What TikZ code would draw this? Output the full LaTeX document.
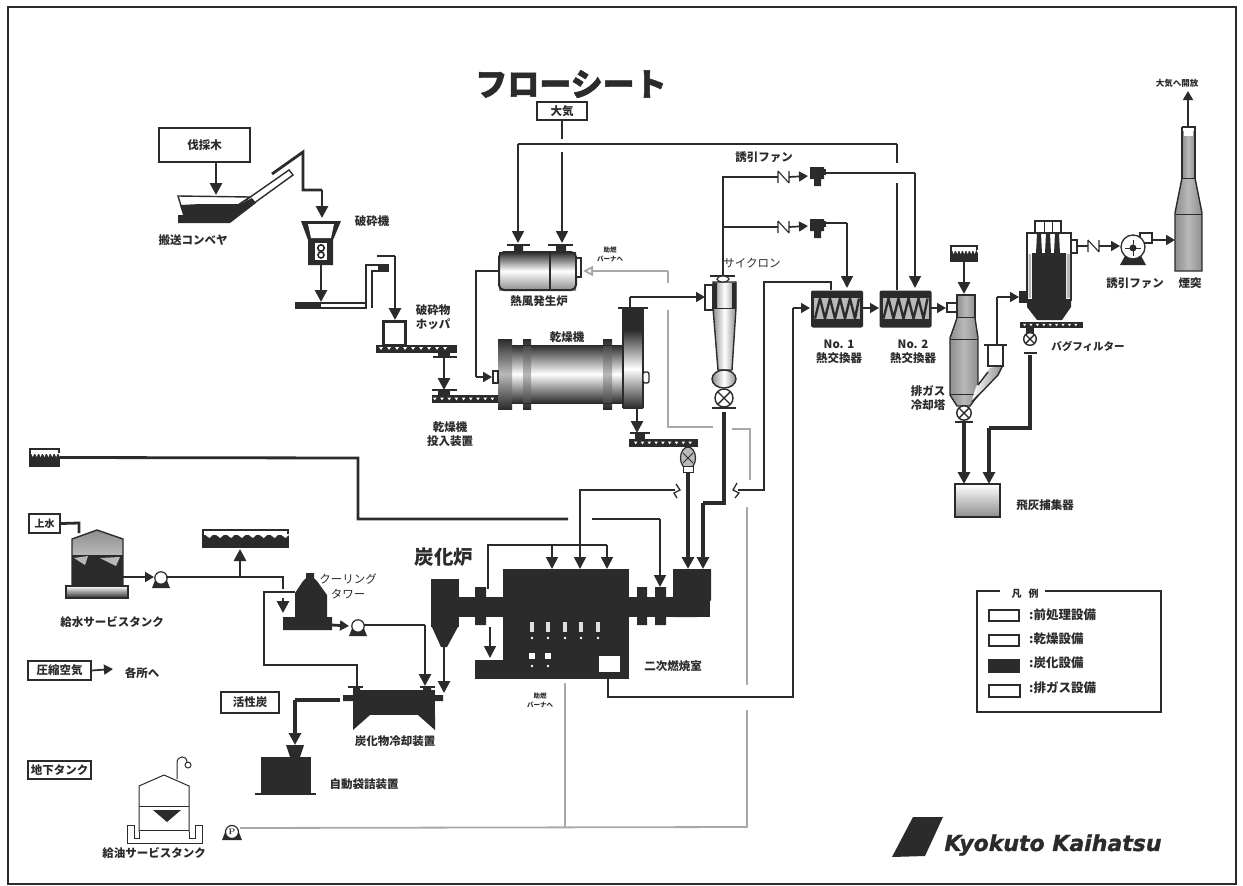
\documentclass[tikz,border=0pt]{standalone}
\usepackage{fontspec}
\newfontfamily\cjk{Noto Sans CJK JP}
\newfontfamily\cjkheavy{Noto Sans CJK JP}[FakeBold=1.6]
\newfontfamily\logofont{DejaVu Sans}[FakeBold=1.2]
\usetikzlibrary{arrows.meta,calc}
\definecolor{ink}{HTML}{2B2B2B}
\definecolor{pale}{HTML}{B9B9B9}
\definecolor{mid}{HTML}{8E8E8E}
\definecolor{greyline}{HTML}{A8A8A8}
\tikzset{
  x=1pt,y=-1pt,
  lab/.style={inner sep=0pt,text=ink,align=center,font=\cjk\bfseries\fontsize{11.5}{14}\selectfont},
  lablight/.style={inner sep=0pt,text=ink,align=center,font=\cjk\fontsize{11.5}{15}\selectfont},
  small/.style={inner sep=0pt,text=ink,align=center,font=\cjk\bfseries\fontsize{6.5}{9}\selectfont},
  tagbox/.style={draw=ink,line width=1.2pt,fill=white,inner sep=0pt,text=ink,font=\cjk\bfseries\fontsize{11.5}{14}\selectfont},
  pipe/.style={draw=ink,line width=1.7pt},
  pipet/.style={draw=ink,line width=2.8pt},
  pipex/.style={draw=ink,line width=4.6pt},
  gpipe/.style={draw=greyline,line width=1.8pt},
  arr/.style={-{Triangle[length=12pt,width=12pt]}},
  arrs/.style={-{Triangle[length=9pt,width=10pt]}},
  ggarr/.style={-{Triangle[length=10pt,width=10pt,fill=white]}},
  shell/.style={draw=ink,line width=1.4pt},
  ballvalve/.pic={
    \draw[ink,line width=1.4pt,fill=white] (0,0) circle (9);
    \draw[ink,line width=1.4pt] (-6.4,-6.4) -- (6.4,6.4) (-6.4,6.4) -- (6.4,-6.4);
  },
  checkv/.pic={
    \draw[ink,line width=1.1pt] (0,-6) -- (0,6) (0,-6) -- (11,6) (11,-6) -- (11,6);
  },
  fanunit/.pic={
    \fill[ink] (-7,-8) rectangle (7,4) (-3,4) rectangle (4,11);
    \fill[ink] (7,-6) rectangle (9,0);
  },
  pumpunit/.pic={
    \fill[ink] (-9,10) -- (-5,0) -- (5,0) -- (9,10) -- cycle;
    \draw[ink,line width=1.2pt,fill=white] (0,0) circle (6.2);
  },
  hxunit/.pic={
    \fill[ink,rounded corners=2pt] (-26,-18) rectangle (26,19);
    \fill[pale] (-23,-11) rectangle (23,10);
    \draw[ink,line width=2.4pt,line join=miter]
      (-22,10) -- (-17,-10) -- (-12,10) -- (-7,-10) -- (-2,10) -- (3,-10) -- (8,10) -- (13,-10) -- (18,10) -- (22,-10);
  },
  screwunit/.pic={
    \foreach \i in {0,8,...,64}{ \fill[white] (\i,-1.5) -- (\i+4,-1.5) -- (\i+2,1.5) -- cycle; }
  }
}
\newcommand{\blotbox}[4]{%
  \fill[ink] (#1,#2) rectangle (#3,#4);
  \fill[white] (#1+2,#2+2) rectangle (#3-2,#2+6);
  \pgfmathsetmacro{\bstep}{(#3-#1)/8}
  \foreach \k in {0,...,7}{
    \fill[white] ({#1+2+\k*\bstep},#2+5) -- ({#1+2+(\k+.5)*\bstep},#2+9) -- ({#1+2+(\k+.9)*\bstep},#2+5) -- cycle;
  }
}
\begin{document}
\begin{tikzpicture}
\useasboundingbox (0,0) rectangle (1243,886);
\fill[white] (0,0) rectangle (1243,886);
\draw[ink,line width=1.5pt] (8,7) rectangle (1236,884);

% ---------- ports and bends ----------
\coordinate (wasteDrop) at (216,195);
\coordinate (chuteA) at (272,174); \coordinate (chuteB) at (303,152);
\coordinate (chuteC) at (303,190); \coordinate (chuteD) at (322,190); \coordinate (crusherIn) at (322,218);
\coordinate (crusherOut) at (321,265); \coordinate (beltIn) at (321,302);
\coordinate (liftTop) at (377,256); \coordinate (liftB) at (395,256); \coordinate (hopperIn) at (395,320);
\coordinate (feedOut) at (444,358); \coordinate (feedIn) at (444,390);
\coordinate (airBranchTop) at (562,120); \coordinate (airGapA) at (562,139);
\coordinate (airGapB) at (562,152); \coordinate (burnerIn2) at (562,243);
\coordinate (airL) at (518,144); \coordinate (burnerIn1) at (518,243);
\coordinate (airR) at (897,144); \coordinate (airRGap) at (897,163);
\coordinate (airRGapB) at (897,183); \coordinate (hx2Tap) at (897,290);
\coordinate (genOut) at (499,271); \coordinate (genBendA) at (476,271);
\coordinate (genBendB) at (476,383); \coordinate (dryerIn) at (492,377);
\coordinate (dryerOut) at (630,308); \coordinate (gasBend) at (630,297); \coordinate (cycIn) at (705,297);
\coordinate (cycTop) at (723,276); \coordinate (fan1Bend) at (723,177); \coordinate (fan1Chk) at (778,177);
\coordinate (fan2Tee) at (723,227); \coordinate (fan2Chk) at (778,227);
\coordinate (fan1Out) at (826,173); \coordinate (fan1Right) at (915,173); \coordinate (hx2In) at (915,288);
\coordinate (fan2Out) at (826,223); \coordinate (fan2Right) at (847,223); \coordinate (hx1In) at (847,288);
\coordinate (hx1Tap) at (831,290); \coordinate (tapBend) at (831,282); \coordinate (tapL) at (764,282);
\coordinate (sBreakR) at (738,490); \coordinate (sBendR) at (764,490);
\coordinate (hx1Fwd) at (793,308); \coordinate (hx1Left) at (810,308);
\coordinate (ashWin) at (608,672); \coordinate (ashBend) at (608,697); \coordinate (ashR) at (793,697);
\coordinate (hxAout) at (863,308); \coordinate (hxBin) at (879,308);
\coordinate (hxBout) at (931,308); \coordinate (coolIn) at (946,308);
\coordinate (sprayIn) at (964,294);
\coordinate (coolOut) at (997,345); \coordinate (coolUp) at (997,297); \coordinate (bagIn) at (1019,297);
\coordinate (coolDown) at (964,423); \coordinate (ashA) at (964,484);
\coordinate (bagDown) at (1030,355); \coordinate (bagBend) at (1030,428); \coordinate (bagBendL) at (989,428); \coordinate (ashB) at (989,484);
\coordinate (bagOut) at (1077,246); \coordinate (bagChk) at (1088,246); \coordinate (fan3In) at (1120,246);
\coordinate (fan3Out) at (1152,240); \coordinate (stackIn) at (1175,240);
\coordinate (stackTop) at (1188,127); \coordinate (stackEnd) at (1188,91);
\coordinate (fuelL) at (358,458); \coordinate (fuelD) at (358,519); \coordinate (fuelGap) at (568,519);
\coordinate (fuelGapB) at (592,519); \coordinate (fuelBend) at (660,519); \coordinate (fuelEnd) at (660,587);
\coordinate (sLeft) at (675,490); \coordinate (sCorner) at (580,490); \coordinate (busTee) at (580,545);
\coordinate (busL) at (488,545); \coordinate (busLd) at (488,589); \coordinate (busR) at (607,545);
\coordinate (busA) at (552,545); \coordinate (fA) at (552,569); \coordinate (fB) at (580,569); \coordinate (fC) at (607,569);
\coordinate (char1) at (688,470); \coordinate (char1e) at (688,569);
\coordinate (char2) at (724,412); \coordinate (char2b) at (724,503); \coordinate (char2c) at (703,503); \coordinate (char2e) at (703,569);
\coordinate (dryDown) at (637,408); \coordinate (dryDownE) at (637,433);
\coordinate (inFeed) at (490,627); \coordinate (inFeedE) at (490,658);
\coordinate (waterIn) at (79,523); \coordinate (waterTop) at (79,533);
\coordinate (tankOut) at (123,577); \coordinate (pump1In) at (154,577);
\coordinate (pump1Out) at (166,577); \coordinate (line1E) at (283,577); \coordinate (line1D) at (283,589);
\coordinate (tee1) at (240,577); \coordinate (up1) at (240,549);
\coordinate (dropA) at (283,598); \coordinate (dropB) at (283,613);
\coordinate (retA) at (295,592); \coordinate (retB) at (264,592); \coordinate (retC) at (264,665); \coordinate (retD) at (357,665); \coordinate (retE) at (357,687);
\coordinate (ctOut) at (332,625); \coordinate (pump2In) at (349,626);
\coordinate (pump2Out) at (364,625); \coordinate (pump2B) at (425,625); \coordinate (pump2E) at (425,686);
\coordinate (cycDown) at (444,646); \coordinate (cycDownE) at (444,693);
\coordinate (coolerOut) at (340,700); \coordinate (bagB) at (295,700); \coordinate (bagE) at (295,745);
\coordinate (caE) at (113,669);
\coordinate (dstA) at (583,271); \coordinate (gB) at (668,271); \coordinate (gC) at (668,283);
\coordinate (gD) at (668,310); \coordinate (gE) at (668,427); \coordinate (gF) at (713,427);
\coordinate (gG) at (732,429); \coordinate (gH) at (750,429); \coordinate (gI) at (750,480);
\coordinate (gJ) at (747,507); \coordinate (gK) at (747,685); \coordinate (gL) at (747,710);
\coordinate (gM) at (747,827); \coordinate (gN) at (240,828); \coordinate (gO) at (565,683); \coordinate (gP) at (565,827);

% ---------- labels and boxes ----------
\node[inner sep=0pt,text=ink,font=\cjkheavy\bfseries\fontsize{32}{34}\selectfont] (title) at (571,84) {フローシート};
\node[tagbox,minimum width=91pt,minimum height=34pt] (wood) at (204.5,145) {伐採木};
\node[tagbox,minimum width=50pt,minimum height=18pt] (air) at (562,111) {大気};
\node[tagbox,minimum width=63pt,minimum height=19pt] (comp) at (59.5,670.5) {圧縮空気};
\node[tagbox,minimum width=58pt,minimum height=21pt] (carbon) at (250,702.5) {活性炭};
\node[tagbox,minimum width=63pt,minimum height=18pt] (ugt) at (59.5,770) {地下タンク};
\node[tagbox,line width=2pt,minimum width=31pt,minimum height=19pt] (tapw) at (44.5,523.5) {\fontsize{10}{12}\selectfont 上水};
\node[lab] (l1) at (193,240) {搬送コンベヤ};
\node[lab] (l2) at (372,221) {破砕機};
\node[lab] (l3) at (433,317) {破砕物\\ホッパ};
\node[lab] (l4) at (450,434) {乾燥機\\投入装置};
\node[lab] (l5) at (539,301) {熱風発生炉};
\node[lablight] (l8) at (752,263) {サイクロン};
\node[small] (l9) at (610,254) {助燃\\バーナへ};
\node[small] (l9b) at (540,700) {助燃\\バーナへ};
\node[lab] (l7) at (764,157) {誘引ファン};
\node[lab] (l10) at (839,352) {No. 1\\熱交換器};
\node[lab] (l11) at (913,352) {No. 2\\熱交換器};
\node[lab] (l12) at (928,398) {排ガス\\冷却塔};
\node[lablight,font=\cjk\bfseries\fontsize{10.5}{13}\selectfont] (l13) at (1088,346) {バグフィルター};
\node[lab] (l14) at (1135,283) {誘引ファン};
\node[lab] (l15) at (1190,283) {煙突};
\node[lab,font=\cjk\bfseries\fontsize{8.5}{10}\selectfont] (l16) at (1177,83) {大気へ開放};
\node[lab] (l17) at (1045,505) {飛灰捕集器};
\node[lab] (l18) at (112,622) {給水サービスタンク};
\node[lab] (l19) at (142,673) {各所へ};
\node[lab] (l20) at (154,853) {給油サービスタンク};
\node[lablight] (l21) at (348,586) {クーリング\\タワー};
\node[inner sep=0pt,text=ink,font=\cjk\bfseries\fontsize{19.5}{22}\selectfont] (l22) at (444,557) {炭化炉};
\node[lab] (l23) at (395,741) {炭化物冷却装置};
\node[lab] (l24) at (364,784) {自動袋詰装置};
\node[lab] (l25) at (673,666) {二次燃焼室};

% ---------- conveyor, crusher, hopper ----------
\draw[shell,fill=white] (246,200) -- (289,170) -- (293,175) -- (246,209) -- cycle;
\draw[shell,fill=white] (178,196) -- (250,197) -- (232,209) -- (182,209) -- cycle;
\fill[ink] (180,205) -- (200,204) -- (240,204) -- (252,198) -- (256,203) -- (230,223) -- (178,223) -- (178,215) -- (183,215) -- cycle;
\fill[ink] (301,221) -- (341,221) -- (333,240) -- (333,265) -- (308,265) -- (308,240) -- cycle;
\fill[white] (308,224) -- (334,224) -- (331,238) -- (311,238) -- cycle;
\fill[white] (315,243) -- (327,243) -- (327,260) -- (315,260) -- cycle;
\draw[ink,line width=1.6pt] (321,248) circle (3.2) (321,255) circle (3);
\fill[ink] (295,302) rectangle (320,309);
\draw[shell,fill=white] (320,303) rectangle (366,308);
\draw[shell,fill=white] (366,308) -- (366,265) -- (388,265) -- (388,271) -- (372,271) -- (372,308);
\fill[ink] (378,265) rectangle (388,272);
\draw[ink,line width=3pt,fill=white] (383.5,321.5) rectangle (405.5,345);
\fill[ink] (376,345) rectangle (457,353);
\draw[ink,line width=1.3pt] (433,357) -- (457,357);
\fill[ink] (438,353) rectangle (450,358);
\pic at (379,348.5) {screwunit};
\draw[ink,line width=1.3pt] (432,390) -- (457,390);
\fill[ink] (438,390) rectangle (450,395);
\fill[ink] (432,395) rectangle (498,403);
\pic[scale=.9] at (433,399) {screwunit};

% ---------- hot air generator ----------
\shade[top color=ink,bottom color=mid,middle color=white] (499,252) rectangle (576,290);
\draw[ink,line width=2pt,rounded corners=5pt] (499,252) rectangle (576,290);
\draw[ink,line width=2pt] (550,253) -- (550,290);
\draw[ink,line width=1.4pt,fill=white] (576,258) rectangle (581,277);
\draw[ink,line width=1.3pt] (507,245) -- (530,245) (548,245) -- (573,245);
\fill[ink] (514,245) rectangle (523,252) (556,245) rectangle (566,252);

% ---------- dryer ----------
\shade[top color=ink,bottom color=ink,middle color=white] (512,345) rectangle (623,403);
\foreach \xa/\xb in {498/512,523/531,603/612}{
  \shade[top color=ink,bottom color=ink,middle color=pale] (\xa,339) rectangle (\xb,409);
}
\draw[ink,line width=1pt] (512,345) -- (623,345) (512,403) -- (623,403);
\shade[top color=ink,bottom color=ink,middle color=white] (623,330) rectangle (643,408);
\fill[ink] (624,308) rectangle (643,330);
\draw[ink,line width=1.3pt] (618,308) -- (648,308) (623,308) -- (623,408) (643,308) -- (643,408);
\draw[shell,fill=white,rounded corners=2pt] (643,372) rectangle (649,383);
\draw[ink,line width=1.8pt,fill=white] (493,371) rectangle (498,383);

% ---------- cyclone ----------
\draw[shell,fill=white] (705,285) rectangle (713,310);
\shade[left color=mid,right color=mid,middle color=white] (713,282) -- (736,282) -- (736,308) -- (732,370) -- (718,370) -- (713,308) -- cycle;
\draw[ink,line width=1.4pt] (713,282) -- (736,282) -- (736,308) -- (732,370) -- (718,370) -- (713,308) -- cycle;
\fill[ink] (713,283) rectangle (717,308) (732,283) rectangle (736,308);
\draw[ink,line width=1pt] (713,308) -- (736,308);
\draw[ink,line width=1.3pt] (710,276) -- (735,276);
\draw[ink,line width=1.2pt,fill=white] (723,279) ellipse (6 and 3);
\shade[left color=mid,right color=mid,middle color=white] (724,379) ellipse (12 and 9);
\draw[shell] (724,379) ellipse (12 and 9);
\pic at (724,398) {ballvalve};
\draw[ink,line width=1.5pt] (712,408) -- (736,408);

% ---------- heat exchangers ----------
\pic at (837,308.5) {hxunit};
\pic at (905.5,308.5) {hxunit};

% ---------- cooling tower ----------
\blotbox{950}{245}{978}{262}
\draw[shell,fill=white] (947,303) rectangle (957,312);
\shade[left color=mid,right color=mid,middle color=pale] (957,295) rectangle (975,318);
\draw[shell] (957,295) rectangle (975,318);
\shade[left color=mid,right color=mid,middle color=pale] (957,318) -- (975,318) -- (978,338) -- (978,395) -- (970,406) -- (957,406) -- (950,395) -- (950,338) -- cycle;
\draw[shell] (957,318) -- (950,338) -- (950,395) -- (957,406) -- (970,406) -- (978,395) -- (978,338) -- (975,318);
\draw[ink,line width=.7pt] (950,339) -- (978,339) (950,394) -- (978,394);
\shade[left color=white,right color=mid] (976,387) -- (990,368) -- (1003,365) -- (998,375) -- (972,400) -- cycle;
\draw[shell] (978,385) -- (988,372) (1003,365) -- (998,375) -- (972,402);
\draw[shell,fill=white] (988,345) rectangle (1003,366);
\draw[ink,line width=1.3pt] (984,345) -- (1007,345);
\pic[scale=.8] at (964,413) {ballvalve};
\draw[ink,line width=1.5pt] (955,422) -- (973,422);

% ---------- bag filter ----------
\draw[shell,fill=white] (1035,221) rectangle (1061,234);
\draw[ink,line width=1pt] (1044,221) -- (1044,234) (1052,221) -- (1052,234);
\draw[shell,fill=white] (1027,233) rectangle (1071,300);
\fill[ink] (1032,253) -- (1066,253) -- (1066,300) -- (1071,300) -- (1071,307) -- (1062,320) -- (1037,320) -- (1027,307) -- (1027,300) -- (1032,300) -- cycle;
\fill[ink] (1037,233) -- (1041,233) -- (1042,254) -- (1036,254) -- cycle
           (1046,233) -- (1050,233) -- (1051,254) -- (1045,254) -- cycle
           (1055,233) -- (1059,233) -- (1060,254) -- (1054,254) -- cycle;
\draw[ink,line width=1.2pt,fill=white] (1071,240) rectangle (1077,253);
\fill[pale] (1028.5,254) rectangle (1031,298) (1067,254) rectangle (1070,298);
\fill[ink] (1019,291) rectangle (1028,303);
\fill[ink] (1020,322) rectangle (1083,328);
\pic[scale=.8] at (1023,325) {screwunit};
\fill[ink] (1026,328) rectangle (1034,333);
\pic[scale=.7] at (1030,339) {ballvalve};
\draw[ink,line width=1.4pt] (1024,353) -- (1037,353);

% ---------- fans, valves, pumps ----------
\pic at (778,177) {checkv};
\pic at (778,227) {checkv};
\pic at (817,175) {fanunit};
\pic at (817,227) {fanunit};
\pic at (1088,246) {checkv};
\draw[ink,line width=1.3pt,fill=white] (1140,233) rectangle (1152,243);
\fill[ink] (1120,265) -- (1126,254) -- (1140,254) -- (1146,265) -- cycle;
\draw[ink,line width=1.3pt,fill=white] (1133,247) circle (12);
\fill[ink] (1133,248) circle (3.5);
\draw[ink,line width=1pt] (1125,248) -- (1141,248) (1133,240) -- (1133,256);

% ---------- stack ----------
\shade[left color=mid,right color=mid,middle color=pale] (1182,131) rectangle (1195,178);
\draw[shell] (1182,127) -- (1195,127) -- (1195,178) (1182,127) -- (1182,178);
\fill[white] (1184,128) rectangle (1193,136);
\shade[left color=mid,right color=mid,middle color=pale] (1182,178) -- (1195,178) -- (1202,213) -- (1202,271) -- (1175,271) -- (1175,213) -- cycle;
\draw[shell] (1182,178) -- (1175,213) -- (1175,271) -- (1202,271) -- (1202,213) -- (1195,178);
\draw[ink,line width=1pt] (1182,178) -- (1195,178) (1175,214) -- (1202,214);

% ---------- ash box ----------
\shade[top color=white,bottom color=mid] (955,484) rectangle (1000,517);
\draw[shell] (955,484) rectangle (1000,517);

% ---------- furnace ----------
\fill[ink] (503,569) rectangle (629,679);
\fill[ink] (458,597) rectangle (710,617);
\fill[ink] (475,587) rectangle (486,625) (637,587) rectangle (647,625) (655,587) rectangle (666,625);
\fill[ink] (673,569) -- (711,569) -- (711,600) -- (697,617) -- (673,617) -- cycle;
\fill[ink] (475,660) rectangle (503,679);
\fill[white] (599,656) rectangle (620,672);
\foreach \xp in {532,548,565,581,598}{
  \fill[white!85!ink] (\xp-2,622) rectangle (\xp+2,632);
  \fill[white] (\xp,638) circle (1.3);
}
\foreach \xp in {532,548}{
  \fill[white] (\xp-3,653) rectangle (\xp+3,659);
  \fill[white] (\xp,666) circle (1.3);
}
\fill[ink] (431,579) rectangle (459,627) ;
\fill[ink] (431,625) -- (459,625) -- (447,647) -- (441,647) -- cycle;

% ---------- water tank and lines ----------
\shade[top color=mid,bottom color=pale] (72,539) -- (97,530) -- (123,539) -- (123,555) -- (72,555) -- cycle;
\fill[ink] (72,555) rectangle (123,586);
\fill[pale] (74,558) -- (88,556) -- (85,565) -- cycle (100,558) -- (120,557) -- (116,566) -- cycle;
\draw[shell] (72,585) -- (72,539) -- (97,530) -- (123,539) -- (123,585);
\shade[top color=white,bottom color=ink] (66,586) rectangle (128,598);
\draw[shell] (66,586) rectangle (128,598);
\blotbox{202}{529}{289}{548}
\fill[ink] (303,581) -- (306,578) -- (306,573) -- (314,573) -- (314,578) -- (317,581) -- (327,595) -- (327,617) -- (332,617) -- (332,630) -- (283,630) -- (283,617) -- (295,617) -- (295,593) -- cycle;
\pic at (161,578) {pumpunit};
\pic at (358,626) {pumpunit};
\fill[ink] (353,690) rectangle (435,715);
\fill[ink] (353,715) -- (370,715) -- (353,730) -- cycle (435,715) -- (418,715) -- (435,730) -- cycle;
\fill[ink] (343,695) rectangle (353,701) (435,695) rectangle (443,701);
\draw[ink,line width=1.3pt] (348,687) -- (363,687) (420,687) -- (435,687);
\fill[ink] (353,687) rectangle (360,690) (423,687) rectangle (431,690);
\fill[ink] (286,745) -- (304,745) -- (300,757) -- (290,757) -- cycle;
\fill[ink] (261,757) rectangle (311,793);
\draw[ink,line width=1.4pt] (255,794) -- (316,794);

% ---------- oil tank ----------
\draw[ink,line width=1pt] (139,832) -- (139,786) -- (164,775) -- (189,786) -- (189,832);
\draw[ink,line width=1pt] (139,806) -- (189,806) (139,830) -- (189,830);
\fill[ink] (153,810) -- (181,810) -- (167,822) -- cycle;
\draw[ink,line width=1pt] (127,825) -- (127,843) -- (202,843) -- (202,825) -- (195,825) -- (195,838) -- (189,838) -- (189,832)
  (127,825) -- (134,825) -- (134,838) -- (139,838) -- (139,832);
\draw[ink,line width=1pt] (177,779) -- (177,763) .. controls (177,755) and (187,755) .. (187,762);
\draw[ink,line width=1pt,fill=white] (188,765) circle (3);
\fill[ink] (222,840) -- (226,830) -- (238,830) -- (242,840) -- cycle;
\draw[ink,line width=1.2pt,fill=white] (232,832) circle (6.5);
\node[inner sep=0pt,text=ink,font=\bfseries\fontsize{8}{9}\selectfont] (pumpP) at (232,832) {P};

% ---------- blot box on the left ----------
\blotbox{29}{448}{60}{467}
\node[inner sep=0pt,minimum width=31pt,minimum height=19pt] (fuelTag) at (44.5,457.5) {};

% ---------- connectors: solid ----------
\draw[pipet,arr] (wood.south -| wasteDrop) -- (wasteDrop);
\draw[pipet] (chuteA) -- (chuteB) -- (chuteC) -- (chuteD);
\draw[pipet,arr] (chuteD) -- (crusherIn);
\draw[pipet,arr] (crusherOut) -- (beltIn);
\draw[pipet] (liftTop) -- (liftB);
\draw[pipet,arr] (liftB) -- (hopperIn);
\draw[pipet,arr] (feedOut) -- (feedIn);
\draw[pipe] (air.south) -- (airBranchTop) -- (airGapA);
\draw[pipe,arr] (airGapB) -- (burnerIn2);
\draw[pipe] (airR) -- (airL);
\draw[pipe,arr] (airL) -- (burnerIn1);
\draw[pipe] (airR) -- (airRGap);
\draw[pipe] (airRGapB) -- (hx2Tap);
\draw[pipe] (genOut) -- (genBendA) -- (genBendB |- dryerIn);
\draw[pipe,arrs] (genBendB |- dryerIn) -- (dryerIn);
\draw[pipe] (dryerOut) -- (gasBend);
\draw[pipe,arrs] (gasBend) -- (cycIn);
\draw[pipe] (cycTop) -- (fan1Bend) -- (fan1Chk);
\draw[pipe] (fan2Tee) -- (fan2Chk);
\draw[pipe,arrs] ($(fan1Chk)+(11,0)$) -- (808,176);
\draw[pipe,arrs] ($(fan2Chk)+(11,0)$) -- (808,226);
\draw[pipe] (fan1Out) -- (fan1Right);
\draw[pipe,arr] (fan1Right) -- (hx2In);
\draw[pipe] (fan2Out) -- (fan2Right);
\draw[pipe,arr] (fan2Right) -- (hx1In);
\draw[pipe] (hx1Tap) -- (tapBend) -- (tapL) -- (sBendR) -- (sBreakR);
\draw[pipe] (ashWin) -- (ashBend) -- (ashR) -- (hx1Fwd);
\draw[pipe,arrs] (hx1Fwd) -- (hx1Left);
\draw[pipe,arrs] (hxAout) -- (hxBin);
\draw[pipe,arrs] (hxBout) -- (coolIn);
\draw[pipet,arr] (964,262) -- (sprayIn);
\draw[pipe] (coolOut) -- (coolUp);
\draw[pipe,arrs] (coolUp) -- (bagIn);
\draw[pipex,arr] (coolDown) -- (ashA);
\draw[pipex] (bagDown) -- (bagBend) -- (bagBendL);
\draw[pipex,arr] (bagBendL) -- (ashB);
\draw[pipe] (bagOut) -- (bagChk);
\draw[pipe,arrs] (1099,246) -- (fan3In);
\draw[pipe,arrs] (fan3Out) -- (stackIn);
\draw[pipe,arrs] (stackTop) -- (stackEnd);
\draw[pipet] (fuelTag.east) -- (fuelL) -- (fuelD) -- (fuelGap);
\draw[pipe] (fuelGapB) -- (fuelBend);
\draw[pipe,arr] (fuelBend) -- (fuelEnd);
\draw[pipe] (sLeft) -- (sCorner) -- (busTee);
\draw[pipe] (busLd) -- (busL) -- (busR);
\draw[pipe,arr] (busA) -- (fA);
\draw[pipe,arr] (busTee) -- (fB);
\draw[pipe,arr] (busR) -- (fC);
\draw[pipex,arr] (char1) -- (char1e);
\draw[pipex] (char2) -- (char2b) -- (char2c);
\draw[pipex,arr] (char2c) -- (char2e);
\draw[pipet,arr] (dryDown) -- (dryDownE);
\draw[pipe,arr] (inFeed) -- (inFeedE);
\draw[pipet] (tapw.east) -- (waterIn) -- (waterTop);
\draw[pipet,arrs] (tankOut) -- (pump1In);
\draw[pipet] (pump1Out) -- (line1E) -- (line1D);
\draw[pipet,arr] (tee1) -- (up1);
\draw[pipet,arr] (dropA) -- (dropB);
\draw[pipet] (retA) -- (retB) -- (retC) -- (retD) -- (retE);
\draw[pipet,arrs] (ctOut) -- (pump2In);
\draw[pipet] (pump2Out) -- (pump2B);
\draw[pipet,arr] (pump2B) -- (pump2E);
\draw[pipet,arr] (cycDown) -- (cycDownE);
\draw[pipex] (coolerOut) -- (bagB);
\draw[pipex,arr] (bagB) -- (bagE);
\draw[pipe,arrs] (comp.east) -- (caE);
% screw conveyor at the dryer outlet, valve
\draw[ink,line width=1.3pt] (630,433) -- (650,433);
\fill[ink] (635,433) rectangle (645,439);
\fill[ink] (629,439) rectangle (698,447);
\pic[scale=.85] at (634,443) {screwunit};
\draw[ink,line width=1.2pt,fill=pale] (688,458) ellipse (7.5 and 11);
\draw[ink,line width=1pt] (683,453) -- (693,463) (683,463) -- (693,453);
\draw[ink,line width=1pt,fill=white] (683,466) rectangle (693,472);
% break marks
\draw[ink,line width=1.3pt] (676,484) -- (680,490) -- (674,493) -- (677,498);
\draw[ink,line width=1.3pt] (737,483) -- (733,490) -- (739,493) -- (735,498);

% ---------- connectors: pale fuel lines ----------
\draw[gpipe,ggarr] (gB) -- (dstA);
\draw[gpipe] (gB) -- (gC);
\draw[gpipe] (gD) -- (gE) -- (gF);
\draw[gpipe,line width=1.2pt] (gG) -- (gH) -- (gI);
\draw[gpipe,line width=1.2pt] (gJ) -- (gK);
\draw[gpipe] (gL) -- (gM) -- (gN);
\draw[gpipe] (gO) -- (gP);

% ---------- legend ----------
\draw[ink,line width=2pt] (1000,591) -- (977,591) -- (977,712) -- (1161,712) -- (1161,591) -- (1045,591);
\node[inner sep=0pt,text=ink,font=\cjk\bfseries\fontsize{10}{12}\selectfont] (legT) at (1025,594) {凡\hspace{7pt}例};
\draw[ink,line width=1.8pt,fill=white] (989,610) rectangle (1019,621);
\draw[ink,line width=1.5pt,fill=white] (989,635) rectangle (1019,646);
\fill[ink] (988,659) rectangle (1020,673);
\draw[ink,line width=1.3pt,fill=white] (989,685) rectangle (1020,697);
\foreach \yy/\tt/\nm in {615/{:前処理設備}/a,639/{:乾燥設備}/b,663/{:炭化設備}/c,688/{:排ガス設備}/d}{
  \node[lab,anchor=west,font=\cjk\bfseries\fontsize{12.5}{14}\selectfont] (leg\nm) at (1029,\yy) {\tt};
}

% ---------- logo ----------
\fill[ink] (892,857) -- (913,817) -- (943,817) -- (925,856) -- cycle;
\node[inner sep=0pt,text=ink,font=\logofont\bfseries\itshape\fontsize{22}{24}\selectfont] (logo) at (1053,845) {Kyokuto Kaihatsu};
% ---------- dryer label on top ----------
\node[lab] (l6) at (567,337) {乾燥機};
\end{tikzpicture}
\end{document}
